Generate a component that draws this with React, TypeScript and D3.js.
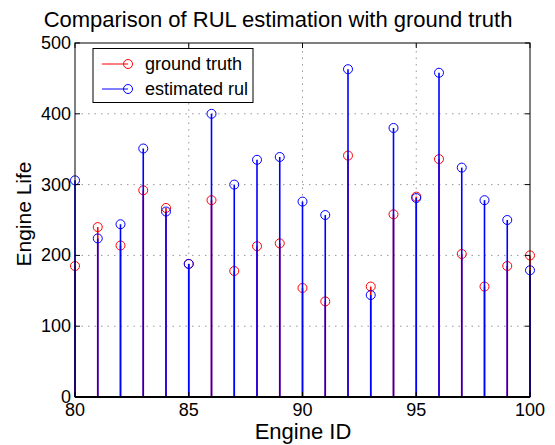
import React, { useRef, useEffect } from 'react';
import * as d3 from 'd3';

// Engine IDs 80..100
const engineIds = [80, 81, 82, 83, 84, 85, 86, 87, 88, 89, 90, 91, 92, 93, 94, 95, 96, 97, 98, 99, 100];
const groundTruth = [185, 240, 214, 292, 267, 188, 278, 178, 213, 217, 154, 135, 341, 156, 258, 283, 336, 202, 156, 185, 200];
const estimatedRul = [306, 224, 244, 351, 262, 188, 400, 300, 335, 339, 276, 257, 463, 144, 380, 281, 458, 324, 278, 250, 179];
const xTicks = [80, 85, 90, 95, 100];
const yTicks = [0, 100, 200, 300, 400, 500];

const App = () => {
  const ref = useRef<SVGSVGElement | null>(null);

  useEffect(() => {
    document.body.style.margin = '0';
    const W = 555;
    const H = 445;
    const margin = { top: 43, right: 25, bottom: 48, left: 75 };
    const font = '"Liberation Sans", Arial, Helvetica, sans-serif';

    const svg = d3.select(ref.current);
    svg.selectAll('*').remove();
    svg.attr('width', W).attr('height', H).style('background', '#fff');

    const x = d3.scaleLinear().domain([80, 100]).range([margin.left, W - margin.right]);
    const y = d3.scaleLinear().domain([0, 500]).range([H - margin.bottom, margin.top]);
    const [x0, x1] = x.range();
    const [y0, y1] = y.range();

    // grid
    const grid = svg.append('g');
    grid.selectAll('.gx')
      .data(xTicks.filter(d => d > 80 && d < 100))
      .enter()
      .append('line')
      .attr('x1', d => x(d)).attr('x2', d => x(d))
      .attr('y1', y0).attr('y2', y1)
      .attr('stroke', '#999')
      .attr('stroke-dasharray', '1.5,5');
    grid.selectAll('.gy')
      .data(yTicks.filter(d => d > 0 && d < 500))
      .enter()
      .append('line')
      .attr('x1', x0).attr('x2', x1)
      .attr('y1', d => y(d)).attr('y2', d => y(d))
      .attr('stroke', '#999')
      .attr('stroke-dasharray', '1.5,5');

    // stems + markers
    const series = [
      { values: groundTruth, color: '#ff0000' },
      { values: estimatedRul, color: '#0000ff' },
    ];
    series.forEach(s => {
      const g = svg.append('g');
      g.selectAll('line')
        .data(engineIds)
        .enter()
        .append('line')
        .attr('x1', d => x(d)).attr('x2', d => x(d))
        .attr('y1', y(0))
        .attr('y2', (d, i) => y(s.values[i]))
        .attr('stroke', s.color)
        .attr('stroke-width', 1.6);
      g.selectAll('circle')
        .data(engineIds)
        .enter()
        .append('circle')
        .attr('cx', d => x(d))
        .attr('cy', (d, i) => y(s.values[i]))
        .attr('r', 4.5)
        .attr('fill', 'none')
        .attr('stroke', s.color)
        .attr('stroke-width', 1);
    });

    // axes box
    svg.append('rect')
      .attr('x', x0).attr('y', y1)
      .attr('width', x1 - x0).attr('height', y0 - y1)
      .attr('fill', 'none')
      .attr('stroke', '#000')
      .attr('stroke-width', 1);
    svg.append('line')
      .attr('x1', x0).attr('x2', x1)
      .attr('y1', y0).attr('y2', y0)
      .attr('stroke', '#000')
      .attr('stroke-width', 2);

    // ticks (inside)
    const tk = 5;
    xTicks.forEach(t => {
      svg.append('line').attr('x1', x(t)).attr('x2', x(t)).attr('y1', y0).attr('y2', y0 - tk).attr('stroke', '#000');
      svg.append('line').attr('x1', x(t)).attr('x2', x(t)).attr('y1', y1).attr('y2', y1 + tk).attr('stroke', '#000');
    });
    yTicks.forEach(t => {
      svg.append('line').attr('x1', x0).attr('x2', x0 + tk).attr('y1', y(t)).attr('y2', y(t)).attr('stroke', '#000');
      svg.append('line').attr('x1', x1).attr('x2', x1 - tk).attr('y1', y(t)).attr('y2', y(t)).attr('stroke', '#000');
    });

    // tick labels
    svg.selectAll('.xl')
      .data(xTicks)
      .enter()
      .append('text')
      .attr('x', d => x(d))
      .attr('y', y0 + 19)
      .attr('text-anchor', 'middle')
      .style('font-family', font)
      .style('font-size', '18px')
      .text(d => d);
    svg.selectAll('.yl')
      .data(yTicks)
      .enter()
      .append('text')
      .attr('x', x0 - 4)
      .attr('y', d => y(d) + 6)
      .attr('text-anchor', 'end')
      .style('font-family', font)
      .style('font-size', '18px')
      .text(d => d);

    // axis titles
    svg.append('text')
      .attr('x', 303)
      .attr('y', H - 6)
      .attr('text-anchor', 'middle')
      .style('font-family', font)
      .style('font-size', '22px')
      .text('Engine ID');
    svg.append('text')
      .attr('transform', `translate(31,214) rotate(-90)`)
      .attr('text-anchor', 'middle')
      .style('font-family', font)
      .style('font-size', '21px')
      .text('Engine Life');
    svg.append('text')
      .attr('x', 278)
      .attr('y', 27)
      .attr('text-anchor', 'middle')
      .style('font-family', font)
      .style('font-size', '22px')
      .text('Comparison of RUL estimation with ground truth');

    // legend
    const lg = svg.append('g');
    lg.append('rect')
      .attr('x', 93).attr('y', 48.5)
      .attr('width', 160).attr('height', 54)
      .attr('fill', '#fff')
      .attr('stroke', '#000');
    series.forEach((s, i) => {
      const ly = 64 + i * 25;
      lg.append('line').attr('x1', 102).attr('x2', 128).attr('y1', ly).attr('y2', ly).attr('stroke', s.color);
      lg.append('circle').attr('cx', 128).attr('cy', ly).attr('r', 4.5).attr('fill', 'none').attr('stroke', s.color);
      lg.append('text')
        .attr('x', 145)
        .attr('y', ly + 6)
        .style('font-family', font)
        .style('font-size', '18px')
        .text(i === 0 ? 'ground truth' : 'estimated rul');
    });
  }, []);

  return <svg ref={ref} style={{ display: 'block' }}></svg>;
};

export default App;
